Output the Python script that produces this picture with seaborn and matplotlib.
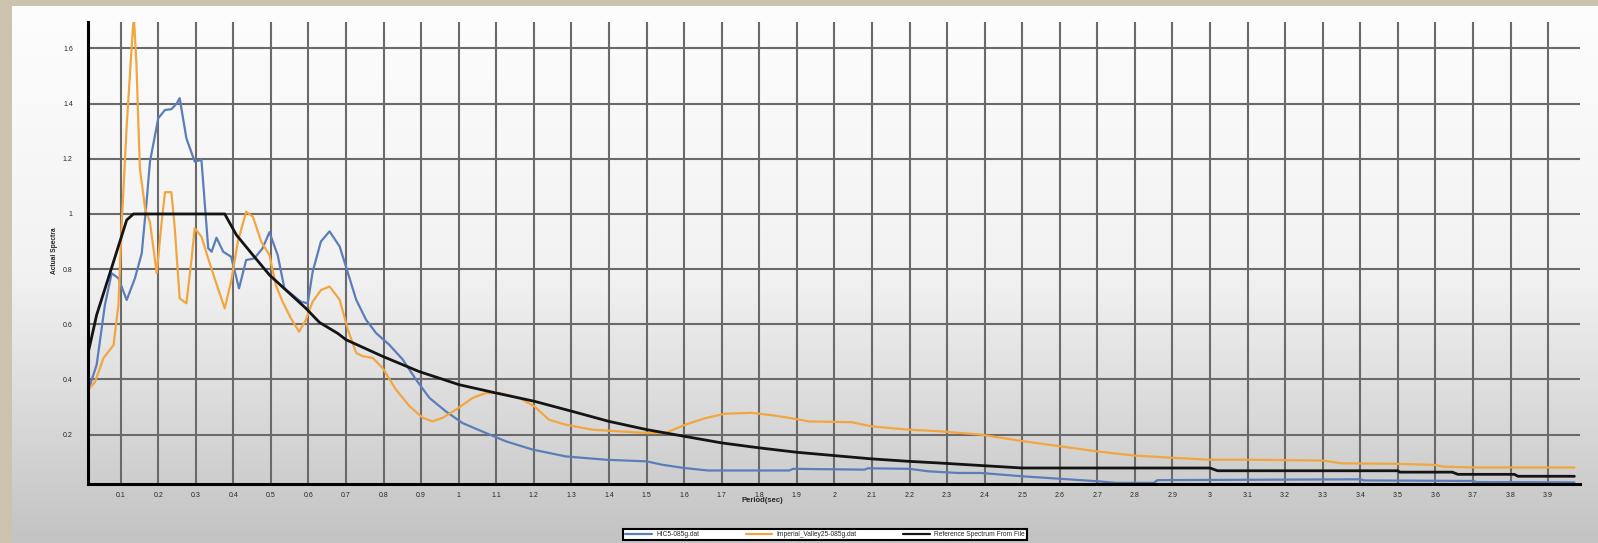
import numpy as np
import pandas as pd
import seaborn as sb
import matplotlib.pyplot as plt
from matplotlib.ticker import FixedLocator, MultipleLocator

# valeurs
hic_period = [0.014, 0.036, 0.058, 0.076, 0.094, 0.116, 0.138, 0.156, 0.169, 0.178,
              0.200, 0.218, 0.235, 0.249, 0.257, 0.275, 0.297, 0.315, 0.333, 0.342,
              0.355, 0.373, 0.394, 0.415, 0.434, 0.456, 0.478, 0.496, 0.518, 0.536,
              0.558, 0.580, 0.598, 0.611, 0.633, 0.656, 0.683, 0.705, 0.727, 0.753,
              0.780, 0.815, 0.851, 0.886, 0.922, 0.966, 1.010, 1.072, 1.125, 1.196,
              1.285, 1.391, 1.501, 1.541, 1.600, 1.663, 1.880, 1.890, 2.080, 2.090,
              2.200, 2.250, 2.329, 2.390, 2.500, 2.600, 2.700, 2.750, 2.850, 2.860,
              3.400, 3.410, 3.700, 3.710, 3.970]
hic_sa = [0.362, 0.453, 0.670, 0.785, 0.767, 0.688, 0.767, 0.857, 1.045, 1.190,
          1.347, 1.377, 1.380, 1.400, 1.420, 1.274, 1.190, 1.196, 0.876, 0.863,
          0.914, 0.863, 0.845, 0.730, 0.833, 0.839, 0.876, 0.934, 0.851, 0.730,
          0.706, 0.682, 0.676, 0.790, 0.900, 0.937, 0.882, 0.786, 0.689, 0.617,
          0.568, 0.526, 0.472, 0.400, 0.333, 0.284, 0.242, 0.206, 0.176, 0.146,
          0.121, 0.109, 0.103, 0.091, 0.079, 0.070, 0.070, 0.076, 0.073, 0.078,
          0.076, 0.067, 0.061, 0.061, 0.049, 0.040, 0.031, 0.025, 0.025, 0.035,
          0.038, 0.034, 0.032, 0.028, 0.027]

iv_period = [0.014, 0.032, 0.054, 0.081, 0.094, 0.103, 0.116, 0.129, 0.135, 0.142,
             0.151, 0.165, 0.178, 0.196, 0.209, 0.218, 0.235, 0.244, 0.257, 0.275,
             0.288, 0.297, 0.315, 0.337, 0.359, 0.377, 0.394, 0.412, 0.434, 0.452,
             0.474, 0.496, 0.513, 0.531, 0.553, 0.575, 0.593, 0.611, 0.633, 0.656,
             0.683, 0.705, 0.727, 0.745, 0.771, 0.797, 0.833, 0.869, 0.904, 0.930,
             0.957, 0.993, 1.037, 1.072, 1.108, 1.161, 1.201, 1.240, 1.285, 1.355,
             1.426, 1.501, 1.550, 1.603, 1.657, 1.710, 1.780, 1.842, 1.896, 1.931,
             2.046, 2.099, 2.197, 2.281, 2.390, 2.503, 2.600, 2.700, 2.800, 2.900,
             3.000, 3.100, 3.300, 3.350, 3.500, 3.600, 3.620, 3.700, 3.970]
iv_sa = [0.362, 0.392, 0.477, 0.525, 0.670, 0.970, 1.320, 1.600, 1.720, 1.540,
         1.166, 1.020, 0.970, 0.785, 0.970, 1.079, 1.079, 0.948, 0.694, 0.676,
         0.827, 0.948, 0.918, 0.821, 0.730, 0.658, 0.755, 0.900, 1.008, 0.990,
         0.900, 0.851, 0.742, 0.682, 0.622, 0.573, 0.616, 0.682, 0.724, 0.737,
         0.689, 0.580, 0.496, 0.484, 0.478, 0.442, 0.363, 0.303, 0.261, 0.248,
         0.261, 0.291, 0.333, 0.351, 0.351, 0.333, 0.303, 0.254, 0.236, 0.218,
         0.212, 0.206, 0.206, 0.236, 0.260, 0.276, 0.279, 0.269, 0.257, 0.248,
         0.245, 0.230, 0.218, 0.212, 0.200, 0.176, 0.158, 0.139, 0.124, 0.116,
         0.109, 0.109, 0.106, 0.096, 0.094, 0.090, 0.084, 0.081, 0.081]

ref_period = [0.014, 0.036, 0.081, 0.116, 0.134, 0.377, 0.408, 0.452, 0.496, 0.540,
              0.593, 0.629, 0.678, 0.700, 0.797, 0.894, 1.001, 1.099, 1.201, 1.303,
              1.400, 1.501, 1.600, 1.700, 1.800, 1.900, 2.000, 2.100, 2.200, 2.281,
              2.390, 2.500, 3.000, 3.020, 3.500, 3.505, 3.645, 3.660, 3.810, 3.820,
              3.970]
ref_sa = [0.500, 0.634, 0.827, 0.978, 1.000, 1.000, 0.924, 0.851, 0.779, 0.724,
          0.658, 0.607, 0.567, 0.544, 0.484, 0.429, 0.381, 0.351, 0.321, 0.284,
          0.248, 0.218, 0.194, 0.170, 0.152, 0.136, 0.124, 0.112, 0.103, 0.097,
          0.088, 0.079, 0.079, 0.069, 0.069, 0.064, 0.064, 0.056, 0.056, 0.049,
          0.049]

series_names = ["HIC5-085g.dat", "Imperial_Valley25-085g.dat", "Reference Spectrum From File"]
series_colors = ["#5b7dba", "#f2a640", "#141414"]

x_ticks = [0.1, 0.2, 0.3, 0.4, 0.5, 0.6, 0.7, 0.8, 0.9, 1.0,
           1.1, 1.2, 1.3, 1.4, 1.5, 1.6, 1.7, 1.8, 1.9, 2.0,
           2.1, 2.2, 2.3, 2.4, 2.5, 2.6, 2.7, 2.8, 2.9, 3.0,
           3.1, 3.2, 3.3, 3.4, 3.5, 3.6, 3.7, 3.8, 3.9]
x_labels = ["0.1", "0.2", "0.3", "0.4", "0.5", "0.6", "0.7", "0.8", "0.9", "1",
            "1.1", "1.2", "1.3", "1.4", "1.5", "1.6", "1.7", "1.8", "1.9", "2",
            "2.1", "2.2", "2.3", "2.4", "2.5", "2.6", "2.7", "2.8", "2.9", "3",
            "3.1", "3.2", "3.3", "3.4", "3.5", "3.6", "3.7", "3.8", "3.9"]
y_ticks = [0.2, 0.4, 0.6, 0.8, 1.0, 1.2, 1.4, 1.6]
y_labels = ["0.2", "0.4", "0.6", "0.8", "1", "1.2", "1.4", "1.6"]

df = pd.concat([
    pd.DataFrame({"Period": hic_period, "Sa": hic_sa, "Record": series_names[0]}),
    pd.DataFrame({"Period": iv_period, "Sa": iv_sa, "Record": series_names[1]}),
    pd.DataFrame({"Period": ref_period, "Sa": ref_sa, "Record": series_names[2]}),
])

sb.set_style("white")
plt.rcParams['font.family'] = ['Liberation Sans', 'DejaVu Sans']

fig = plt.figure(figsize=(15.98, 5.43), dpi=100, facecolor="#cbc3ad")

# panneau en dégradé derrière le graphe
bg = fig.add_axes([12 / 1598, 0, 1 - 12 / 1598, 1 - 6 / 543])
grad = np.linspace(0, 1, 256).reshape(-1, 1)
bg.imshow(grad, aspect="auto", cmap=plt.matplotlib.colors.LinearSegmentedColormap.from_list(
    "panel", ["#fdfdfd", "#f2f2f2", "#c3c3c3"]), extent=[0, 1, 0, 1])
bg.set_axis_off()

ax = fig.add_axes([88 / 1598, 1 - 484 / 543, (1580 - 88) / 1598, (484 - 22) / 543])
ax.set_facecolor("none")

sb.lineplot(data=df, x="Period", y="Sa", hue="Record", palette=series_colors,
            estimator=None, sort=True, linewidth=1.6, ax=ax, legend=True)
for line, c in zip(ax.get_lines(), series_colors):
    if c == "#141414":
        line.set_linewidth(2.0)

ax.set_xlim(0.013, 3.985)
ax.set_ylim(0.021, 1.696)

ax.xaxis.set_major_locator(FixedLocator(x_ticks))
ax.set_xticklabels(x_labels)
ax.xaxis.set_minor_locator(MultipleLocator(0.02))
ax.yaxis.set_major_locator(FixedLocator(y_ticks))
ax.set_yticklabels(y_labels)
ax.yaxis.set_minor_locator(MultipleLocator(0.05))

ax.grid(True, which="major", color="#6a6a6a", linewidth=1.5)
ax.set_axisbelow(True)
for side in ["top", "right"]:
    ax.spines[side].set_visible(False)
for side in ["left", "bottom"]:
    ax.spines[side].set_color("black")
    ax.spines[side].set_linewidth(2.2)

ax.tick_params(axis="both", which="both", direction="out", color="#333333",
               labelsize=5, width=0.8)
ax.tick_params(axis="both", which="major", length=3, pad=2)
ax.tick_params(axis="both", which="minor", length=2)
ax.tick_params(axis="y", which="major", pad=8)
ax.tick_params(axis="x", which="major", pad=3)

ax.set_xlabel("Period(sec)", fontsize=5.5, fontweight="bold")
ax.xaxis.set_label_coords((762 - 88) / (1580 - 88), -0.028)
ax.set_ylabel("Actual Spectra", fontsize=4.8, fontweight="bold")
ax.yaxis.set_label_coords(-0.02, 0.505)

handles, labels = ax.get_legend_handles_labels()
ax.legend(handles, labels, loc="center", bbox_to_anchor=(825 / 1598, 1 - 534.5 / 543),
          bbox_transform=fig.transFigure, ncol=3, fontsize=4.8, frameon=True,
          fancybox=False, edgecolor="black", facecolor="white", framealpha=1,
          handlelength=4, handletextpad=0.6, columnspacing=7, borderpad=0.3)
ax.get_legend().get_frame().set_linewidth(1.5)

plt.savefig("out.png", dpi=100, facecolor=fig.get_facecolor())
